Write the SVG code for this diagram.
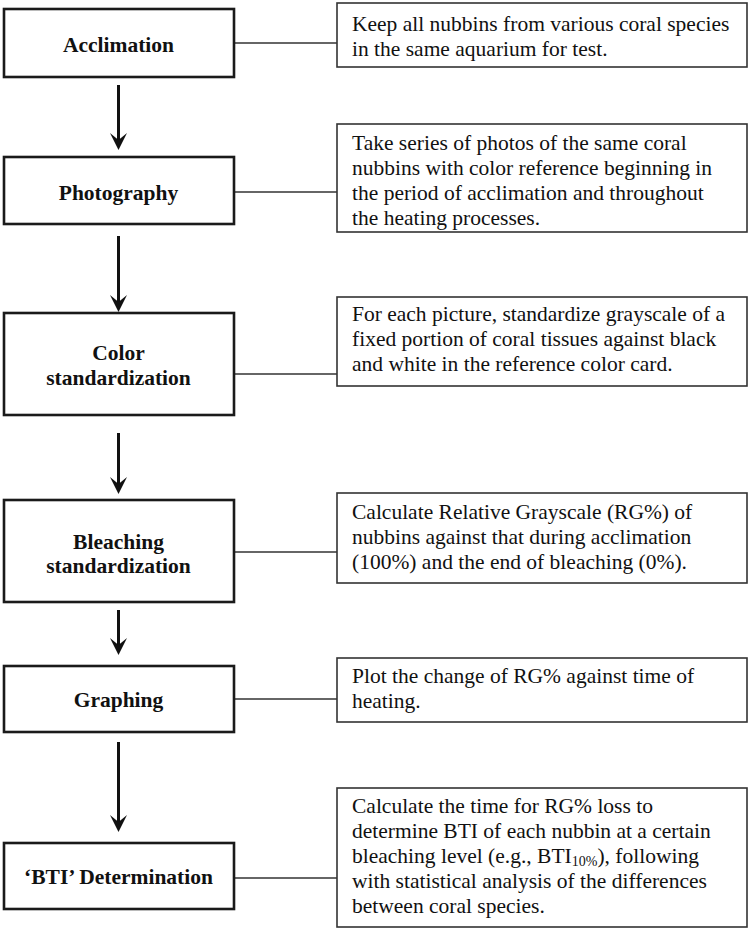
<svg xmlns="http://www.w3.org/2000/svg" width="750" height="930" viewBox="0 0 750 930">
<style>
.step{fill:#fff;stroke:#1a1a1a;stroke-width:2.6}
.note{fill:#fff;stroke:#333;stroke-width:1.6}
.lbl{font-family:"Liberation Serif","Times New Roman",serif;font-weight:bold;font-size:21.5px;fill:#111;text-anchor:middle}
.txt{font-family:"Liberation Serif","Times New Roman",serif;font-size:21.5px;fill:#111}
.link{stroke:#333;stroke-width:1.6;fill:none}
.arrow{stroke:#111;stroke-width:3;fill:none;marker-end:url(#head)}
</style>
<defs>
<marker id="head" viewBox="0 0 18 18" refX="9" refY="9" markerWidth="18" markerHeight="18" markerUnits="userSpaceOnUse" orient="auto">
<path d="M0,0.5 L17,9 L0,17.5 L7,9 Z" fill="#111"/>
</marker>
</defs>
<g id="connectors">
<line class="link" x1="234" y1="43" x2="337" y2="43"/>
<line class="link" x1="234" y1="192" x2="337" y2="192"/>
<line class="link" x1="234" y1="374" x2="337" y2="374"/>
<line class="link" x1="234" y1="552" x2="337" y2="552"/>
<line class="link" x1="234" y1="699" x2="337" y2="699"/>
<line class="link" x1="234" y1="878" x2="337" y2="878"/>
<line class="arrow" x1="118.5" y1="85" x2="118.5" y2="142"/>
<line class="arrow" x1="118.5" y1="236" x2="118.5" y2="304"/>
<line class="arrow" x1="118.5" y1="433" x2="118.5" y2="486"/>
<line class="arrow" x1="118.5" y1="610" x2="118.5" y2="647"/>
<line class="arrow" x1="118.5" y1="742" x2="118.5" y2="824"/>
</g>
<g id="acclimation">
<rect class="step" x="4" y="9" width="230" height="68"/>
<text class="lbl" x="118.5" y="52">Acclimation</text>
</g>
<g id="photography">
<rect class="step" x="4" y="157" width="230" height="67"/>
<text class="lbl" x="118.5" y="200">Photography</text>
</g>
<g id="color-standardization">
<rect class="step" x="4" y="313" width="230" height="102"/>
<text class="lbl" x="118.5" y="360">Color</text>
<text class="lbl" x="118.5" y="385">standardization</text>
</g>
<g id="bleaching-standardization">
<rect class="step" x="4" y="500" width="230" height="102"/>
<text class="lbl" x="118.5" y="549">Bleaching</text>
<text class="lbl" x="118.5" y="573">standardization</text>
</g>
<g id="graphing">
<rect class="step" x="4" y="666" width="230" height="66"/>
<text class="lbl" x="118.5" y="707">Graphing</text>
</g>
<g id="bti-determination">
<rect class="step" x="4" y="843" width="230" height="66"/>
<text class="lbl" x="118.5" y="884">‘BTI’ Determination</text>
</g>
<g id="note-acclimation">
<rect class="note" x="337" y="3" width="410" height="64"/>
<text class="txt" x="352" y="31">Keep all nubbins from various coral species</text>
<text class="txt" x="352" y="56">in the same aquarium for test.</text>
</g>
<g id="note-photography">
<rect class="note" x="337" y="124" width="410" height="108"/>
<text class="txt" x="352" y="150">Take series of photos of the same coral</text>
<text class="txt" x="352" y="175">nubbins with color reference beginning in</text>
<text class="txt" x="352" y="200">the period of acclimation and throughout</text>
<text class="txt" x="352" y="225">the heating processes.</text>
</g>
<g id="note-color">
<rect class="note" x="337" y="297" width="410" height="89"/>
<text class="txt" x="352" y="321">For each picture, standardize grayscale of a</text>
<text class="txt" x="352" y="346">fixed portion of coral tissues against black</text>
<text class="txt" x="352" y="371">and white in the reference color card.</text>
</g>
<g id="note-bleaching">
<rect class="note" x="337" y="493" width="410" height="90"/>
<text class="txt" x="352" y="519">Calculate Relative Grayscale (RG%) of</text>
<text class="txt" x="352" y="544">nubbins against that during acclimation</text>
<text class="txt" x="352" y="569">(100%) and the end of bleaching (0%).</text>
</g>
<g id="note-graphing">
<rect class="note" x="337" y="658" width="410" height="64"/>
<text class="txt" x="352" y="683">Plot the change of RG% against time of</text>
<text class="txt" x="352" y="708">heating.</text>
</g>
<g id="note-bti">
<rect class="note" x="337" y="788" width="410" height="139"/>
<text class="txt" x="352" y="813">Calculate the time for RG% loss to</text>
<text class="txt" x="352" y="838">determine BTI of each nubbin at a certain</text>
<text class="txt" x="352" y="863">bleaching level (e.g., BTI<tspan font-size="14" dy="3">10%</tspan><tspan dy="-3">), following</tspan></text>
<text class="txt" x="352" y="888">with statistical analysis of the differences</text>
<text class="txt" x="352" y="913">between coral species.</text>
</g>
</svg>
